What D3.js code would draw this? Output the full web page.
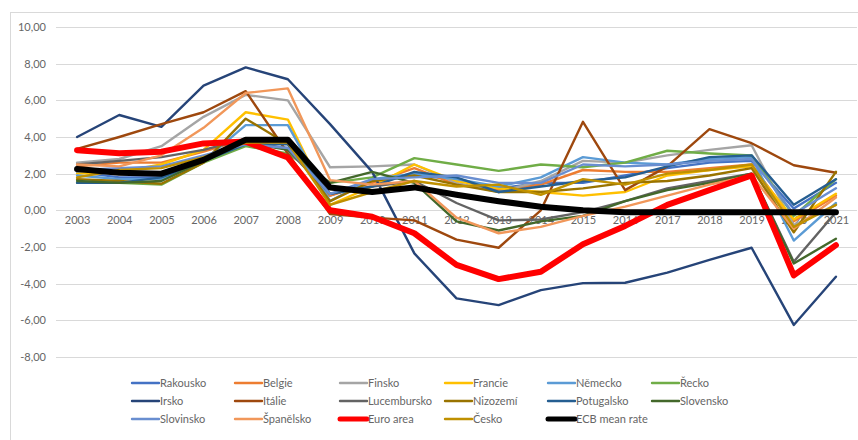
<!DOCTYPE html>
<html>
<head>
<meta charset="utf-8">
<script src="https://cdn.jsdelivr.net/npm/d3@7/dist/d3.min.js"></script>
<style>
  html, body { margin: 0; padding: 0; background: #fff; }
  svg { display: block; }
  text { font-family: Lato, "Open Sans", sans-serif; fill: #666666; }
</style>
</head>
<body>
<svg id="chart" width="858" height="440"></svg>
<script>
const years = ["2003","2004","2005","2006","2007","2008","2009","2010","2011","2012","2013","2014","2015","2016","2017","2018","2019","2020","2021"];
const yTicks = [-8, -6, -4, -2, 0, 2, 4, 6, 8, 10];

const seriesNames = ["Rakousko","Belgie","Finsko","Francie","Německo","Řecko","Irsko","Itálie","Lucembursko","Nizozemí","Potugalsko","Slovensko","Slovinsko","Španělsko","Euro area","Česko","ECB mean rate"];
const seriesColors = ["#4472C4","#ED7D31","#A5A5A5","#FFC000","#5B9BD5","#70AD47","#264478","#9E480E","#636363","#997300","#255E91","#43682B","#698ED0","#F1975A","#FF0000","#BF9000","#000000"];

const rakousko    = [2.1, 1.8, 1.8, 2.7, 3.6, 3.4, 0.8, 1.6, 1.9, 1.7, 1.2, 1.5, 1.5, 1.9, 2.3, 2.6, 2.7, 0.1, 1.5];
const belgie      = [2.4, 2.6, 2.6, 3.2, 3.9, 3.7, 0.8, 1.5, 2.3, 1.4, 1.1, 1.4, 2.2, 2.1, 2.1, 2.3, 2.5, -0.6, 0.8];
const finsko      = [2.6, 2.8, 3.5, 5.1, 6.3, 6.0, 2.35, 2.4, 2.5, 1.5, 1.0, 1.6, 2.7, 2.6, 3.0, 3.3, 3.55, -0.8, 0.3];
const francie     = [2.0, 2.1, 2.5, 3.3, 5.35, 4.95, 0.3, 1.3, 2.5, 1.6, 1.2, 1.0, 0.8, 1.0, 1.9, 2.2, 2.4, -0.5, 0.9];
const nemecko     = [1.9, 1.7, 1.7, 2.7, 4.65, 4.65, 0.5, 1.7, 2.0, 1.7, 1.3, 1.8, 2.9, 2.6, 2.5, 2.8, 2.9, -1.65, 0.4];
const recko       = [1.5, 1.5, 1.4, 2.6, 3.5, 3.1, 1.5, 1.8, 2.85, 2.5, 2.15, 2.5, 2.35, 2.6, 3.25, 3.1, 3.0, -0.3, 1.7];
const irsko       = [4.0, 5.2, 4.55, 6.8, 7.8, 7.15, 4.7, 2.1, -2.35, -4.8, -5.17, -4.35, -3.97, -3.95, -3.4, -2.7, -2.04, -6.25, -3.62];
const italie      = [3.35, 4.0, 4.7, 5.35, 6.5, 3.1, -0.2, -0.4, -0.55, -1.6, -2.04, 0.0, 4.83, 1.1, 2.4, 4.43, 3.66, 2.46, 2.05];
const lucembursko = [2.5, 2.7, 2.9, 3.3, 3.9, 3.3, 0.9, 1.3, 1.6, 0.4, -0.55, -0.5, -0.1, 0.5, 1.2, 1.6, 2.0, -2.8, -0.1];
const nizozemi    = [1.7, 1.6, 1.45, 2.6, 5.0, 3.6, 0.5, 1.6, 1.9, 1.4, 1.0, 1.0, 1.2, 1.5, 1.6, 1.9, 2.3, -1.2, 2.1];
const potugalsko  = [1.5, 1.5, 1.8, 2.7, 3.6, 3.6, 0.9, 1.3, 2.1, 1.8, 1.0, 1.3, 1.6, 1.8, 2.4, 2.9, 3.0, 0.3, 1.7];
const slovensko   = [1.6, 1.5, 1.6, 2.7, 3.7, 3.3, 1.5, 2.1, 1.5, -0.6, -1.1, -0.6, -0.3, 0.5, 1.1, 1.5, 2.0, -2.9, -1.55];
const slovinsko   = [2.2, 2.3, 2.4, 3.0, 3.6, 3.4, 0.9, 1.7, 1.8, 1.9, 1.5, 1.5, 2.5, 2.4, 2.5, 2.7, 2.8, -0.2, 1.2];
const spanelsko   = [2.5, 2.4, 3.0, 4.5, 6.4, 6.65, 1.65, 1.4, 1.6, -0.4, -1.25, -0.9, -0.3, 0.2, 0.8, 1.4, 1.9, -1.0, 0.7];
const euroArea    = [3.28, 3.12, 3.2, 3.65, 3.75, 2.88, 0.0, -0.35, -1.25, -2.98, -3.75, -3.35, -1.85, -0.85, 0.3, 1.1, 1.9, -3.55, -1.9];
const cesko       = [1.8, 2.2, 2.3, 2.9, 3.7, 3.7, 0.3, 1.0, 1.6, 1.3, 1.4, 0.85, 1.7, 1.4, 2.0, 2.2, 2.5, -0.9, 0.3];
const ecbRate     = [2.25, 2.05, 2.0, 2.75, 3.85, 3.85, 1.25, 1.0, 1.25, 0.85, 0.5, 0.2, 0.0, -0.1, -0.1, -0.1, -0.1, -0.1, -0.1];

const seriesValues = [rakousko, belgie, finsko, francie, nemecko, recko, irsko, italie, lucembursko, nizozemi, potugalsko, slovensko, slovinsko, spanelsko, euroArea, cesko, ecbRate];
const thick = {"Euro area": true, "ECB mean rate": true};

const svg = d3.select("#chart");

svg.append("rect").attr("x", 10.5).attr("y", 12.5).attr("width", 900).attr("height", 500)
  .attr("fill", "#fff").attr("stroke", "#D9D9D9").attr("stroke-width", 1);

const x = d3.scalePoint().domain(years).range([56, 857]).padding(0.5);
const y = d3.scaleLinear().domain([-8, 10]).range([357, 27]);

svg.append("g").selectAll("line").data(yTicks).join("line")
  .attr("x1", 56).attr("x2", 857)
  .attr("y1", d => Math.round(y(d)) + 0.5).attr("y2", d => Math.round(y(d)) + 0.5)
  .attr("stroke", "#D9D9D9").attr("stroke-width", 1);

const yAxis = d3.axisLeft(y).tickValues(yTicks).tickSize(0).tickPadding(0)
  .tickFormat(d => d3.format(".2f")(d).replace(".", ",").replace("−", "-"));
const gy = svg.append("g").attr("transform", "translate(46,0)").call(yAxis);
gy.select(".domain").remove();
gy.selectAll("text").style("font-size", "11px").style("font-family", "Lato, sans-serif").attr("fill", "#666666");

const xAxis = d3.axisBottom(x).tickSize(0).tickPadding(0);
const gx = svg.append("g").attr("transform", `translate(0,${y(0) + 10})`).call(xAxis);
gx.select(".domain").remove();
gx.selectAll("text").style("font-size", "11px").style("font-family", "Lato, sans-serif").attr("fill", "#666666").attr("dy", "0.32em");

const line = d3.line().x((d, i) => x(years[i])).y(d => y(d));
const gl = svg.append("g");
seriesNames.forEach((name, k) => {
  gl.append("path").datum(seriesValues[k])
    .attr("d", line).attr("fill", "none")
    .attr("stroke", seriesColors[k])
    .attr("stroke-width", thick[name] ? 6 : 2.4)
    .attr("stroke-linejoin", "round").attr("stroke-linecap", "round");
});

const colX = [132, 235, 340, 445, 548, 652];
const rowY = [383, 401, 419];
const lg = svg.append("g");
seriesNames.forEach((name, k) => {
  const cx = colX[k % 6], cy = rowY[Math.floor(k / 6)];
  lg.append("line").attr("x1", cx).attr("x2", cx + 27).attr("y1", cy).attr("y2", cy)
    .attr("stroke", seriesColors[k]).attr("stroke-width", thick[name] ? 5 : 2.4)
    .attr("stroke-linecap", "round");
  lg.append("text").attr("x", cx + 28).attr("y", cy).attr("dy", "0.35em")
    .style("font-size", "11px").attr("fill", "#666666").text(name);
});
</script>
</body>
</html>
